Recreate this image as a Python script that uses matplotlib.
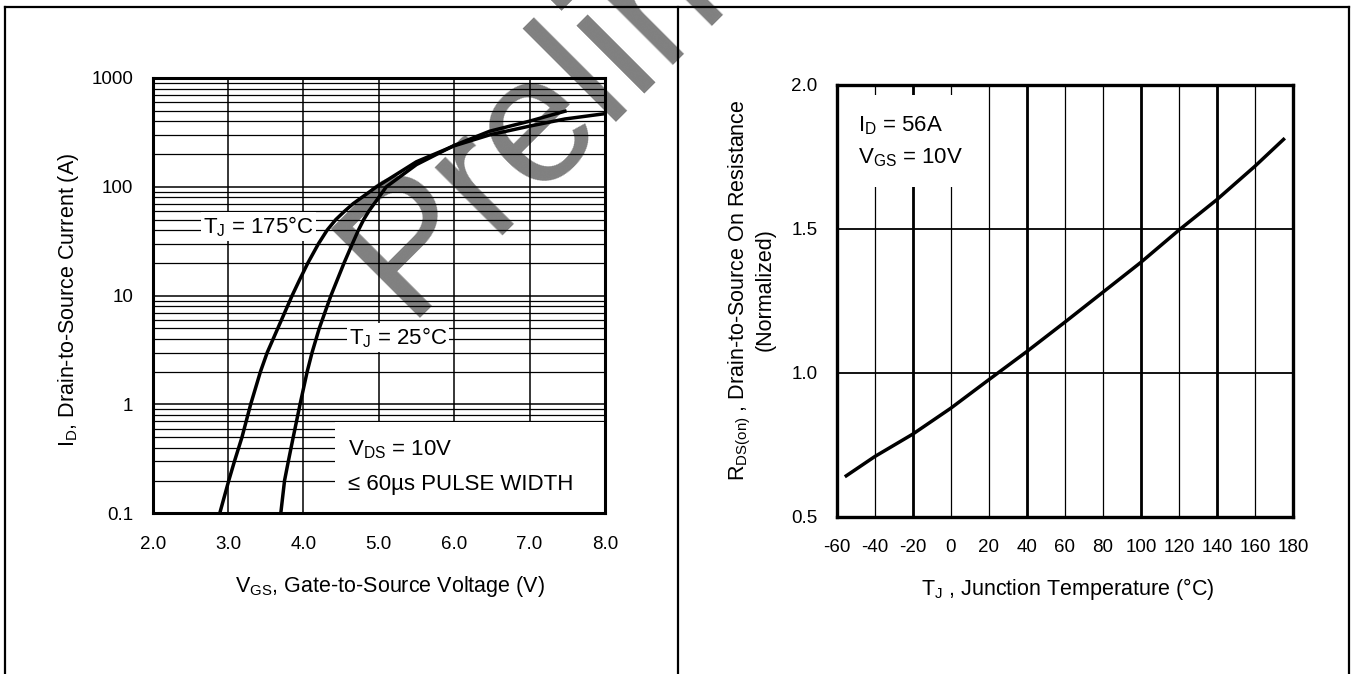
import matplotlib
matplotlib.use("Agg")
import matplotlib.pyplot as plt
from matplotlib.lines import Line2D
from matplotlib.patches import Rectangle
from matplotlib.ticker import LogLocator, NullFormatter

plt.rcParams["font.family"] = ["Liberation Sans", "DejaVu Sans"]
plt.rcParams["mathtext.default"] = "regular"

# ========================
# DATA - transfer characteristics (left)
# ========================
VGS_175 = [2.89, 3.01, 3.085, 3.185, 3.30, 3.43, 3.52, 3.66, 3.85, 3.95, 4.06, 4.20, 4.315, 4.43,
           4.55, 4.66, 4.97, 5.5, 6.0, 6.47, 7.0, 7.47, 8.0]
ID_175 = [0.1, 0.2, 0.3, 0.5, 1, 2, 3, 5, 10, 14, 20, 30, 40, 50,
          60, 70, 100, 170, 238, 300, 361, 420, 470]

VGS_25 = [3.70, 3.75, 3.80, 3.865, 3.955, 4.05, 4.115, 4.21, 4.365, 4.45, 4.54, 4.65, 4.73, 4.80,
          4.87, 5.0, 5.1, 5.5, 6.0, 6.47, 7.0, 7.47]
ID_25 = [0.1, 0.2, 0.3, 0.5, 1, 2, 3, 5, 10, 14, 20, 30, 40, 50,
         60, 80, 100, 160, 240, 324, 401, 495]

VGS_TICKS = [2.0, 3.0, 4.0, 5.0, 6.0, 7.0, 8.0]
ID_TICKS = [0.1, 1, 10, 100, 1000]
ID_TICK_LABELS = ["0.1", "1", "10", "100", "1000"]

# ========================
# DATA - normalized Rds(on) vs Tj (right)
# ========================
TJ = [-55, -40, -20, 0, 20, 40, 60, 80, 100, 120, 140, 160, 175]
RDS_NORM = [0.642, 0.709, 0.787, 0.877, 0.976, 1.074, 1.176, 1.28, 1.384, 1.496, 1.602, 1.718, 1.811]

TJ_TICKS = [-60, -40, -20, 0, 20, 40, 60, 80, 100, 120, 140, 160, 180]
RDS_TICKS = [0.5, 1.0, 1.5, 2.0]
THICK_TJ_GRID = [-20, 40, 100, 140]

TICK_FS = 13.5
LABEL_FS = 15.5
NOTE_FS = 16

fig = plt.figure(figsize=(13.52, 6.74), dpi=100)

# --- watermark, sits behind everything ---
fig.text(0.2996, 0.528, "Preliminary", rotation=45, rotation_mode="anchor",
         ha="left", va="baseline", fontsize=130, color="#808080", zorder=-1)

# --- Left: ID vs VGS ---
ax1 = fig.add_axes([0.1129, 0.2384, 0.3345, 0.6459])
ax1.set_facecolor("none")
ax1.set_yscale("log")
ax1.set_xlim(2, 8)
ax1.set_ylim(0.1, 1000)
ax1.set_xticks(VGS_TICKS, labels=[f"{v:.1f}" for v in VGS_TICKS])
ax1.set_yticks(ID_TICKS, labels=ID_TICK_LABELS)
ax1.yaxis.set_minor_locator(LogLocator(base=10, subs=(2, 3, 4, 5, 6, 7, 8, 9)))
ax1.yaxis.set_minor_formatter(NullFormatter())
ax1.tick_params(which="both", length=0, labelsize=TICK_FS)
ax1.tick_params(axis="y", pad=14)
ax1.tick_params(axis="x", pad=16)
ax1.set_axisbelow(True)
ax1.grid(True, which="major", color="black", lw=1.1)
ax1.grid(True, which="minor", axis="y", color="black", lw=0.9)
for sp in ax1.spines.values():
    sp.set_linewidth(2.2)

ax1.plot(VGS_175, ID_175, color="black", lw=2.5, zorder=2)
ax1.plot(VGS_25, ID_25, color="black", lw=2.5, zorder=2)

ax1.add_patch(Rectangle((0.403, 0.0), 0.597, 0.21, transform=ax1.transAxes,
                        facecolor="white", edgecolor="none", zorder=1))
ax1.text(0.111, 0.644, r"T$_J$ = 175°C", transform=ax1.transAxes, fontsize=NOTE_FS,
         bbox=dict(facecolor="white", edgecolor="none", pad=1.5), zorder=1.5)
ax1.text(0.434, 0.389, r"T$_J$ = 25°C", transform=ax1.transAxes, fontsize=NOTE_FS,
         bbox=dict(facecolor="white", edgecolor="none", pad=1.5), zorder=1.5)
ax1.text(0.432, 0.134, r"V$_{DS}$ = 10V", transform=ax1.transAxes, fontsize=NOTE_FS)
ax1.text(0.432, 0.054, "≤ 60µs PULSE WIDTH", transform=ax1.transAxes, fontsize=NOTE_FS)

ax1.set_xlabel(r"V$_{GS}$, Gate-to-Source Voltage (V)", fontsize=LABEL_FS, va="center")
ax1.xaxis.set_label_coords(0.525, -0.167)
ax1.set_ylabel(r"I$_D$, Drain-to-Source Current (A)", fontsize=LABEL_FS, va="center")
ax1.yaxis.set_label_coords(-0.187, 0.49)

# --- Right: Rds(on) vs Tj ---
ax2 = fig.add_axes([0.6189, 0.2334, 0.3375, 0.6405])
ax2.set_facecolor("none")
ax2.set_xlim(-60, 180)
ax2.set_ylim(0.5, 2.0)
ax2.set_xticks(TJ_TICKS, labels=[str(t) for t in TJ_TICKS])
ax2.set_yticks(RDS_TICKS, labels=[f"{r:.1f}" for r in RDS_TICKS])
ax2.tick_params(which="both", length=0, labelsize=TICK_FS)
ax2.tick_params(axis="y", pad=14)
ax2.tick_params(axis="x", pad=16)
ax2.set_axisbelow(True)
ax2.grid(True, axis="x", color="black", lw=0.9)
ax2.grid(True, axis="y", color="black", lw=1.3)
for t in THICK_TJ_GRID:
    ax2.axvline(t, color="black", lw=2.0, zorder=0.6)
for sp in ax2.spines.values():
    sp.set_linewidth(2.4)

ax2.plot(TJ, RDS_NORM, color="black", lw=2.5, zorder=2)

ax2.add_patch(Rectangle((0.0, 0.764), 0.29, 0.213, transform=ax2.transAxes,
                        facecolor="white", edgecolor="none", zorder=1))
ax2.text(0.047, 0.892, r"I$_D$ = 56A", transform=ax2.transAxes, fontsize=NOTE_FS)
ax2.text(0.047, 0.819, r"V$_{GS}$ = 10V", transform=ax2.transAxes, fontsize=NOTE_FS)

ax2.set_xlabel(r"T$_J$ , Junction Temperature (°C)", fontsize=LABEL_FS, va="center")
ax2.xaxis.set_label_coords(0.507, -0.167)
ax2.set_ylabel("R$_{DS(on)}$ , Drain-to-Source On Resistance\n(Normalized)",
               fontsize=LABEL_FS, va="center", multialignment="center", linespacing=1.1)
ax2.yaxis.set_label_coords(-0.188, 0.525)

# --- outer table frame ---
top = 0.9889
for x in [0.0037, 0.5015, 0.9978]:
    fig.add_artist(Line2D([x, x], [0, top], transform=fig.transFigure, color="black", lw=1.6))
fig.add_artist(Line2D([0.0037, 0.9978], [top, top], transform=fig.transFigure, color="black", lw=1.6))

fig.savefig("out.png", dpi=100)
